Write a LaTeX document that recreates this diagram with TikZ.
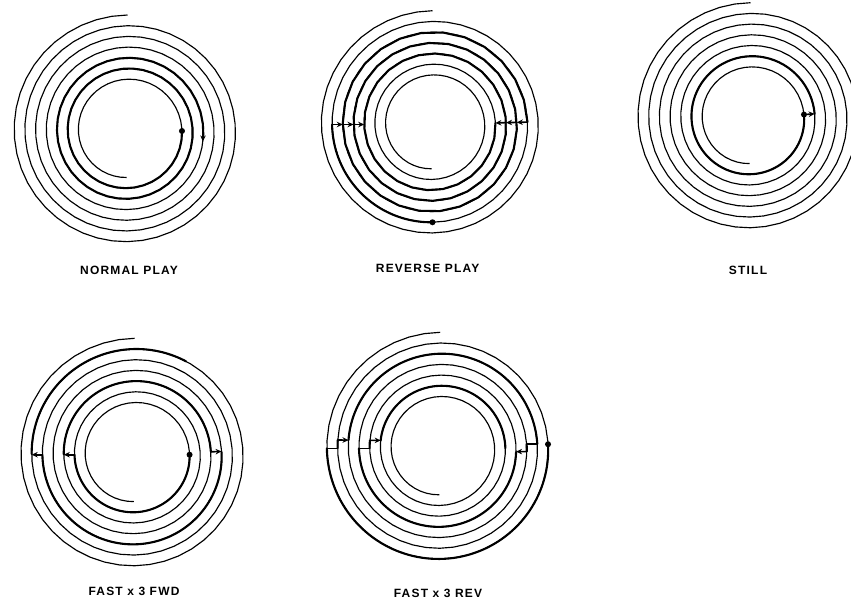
\documentclass[tikz,border=0pt]{standalone}
\usepackage{fontspec}
\setmainfont{Liberation Sans}
\newfontfamily\modefont[LetterSpace=10]{Liberation Sans}
\usetikzlibrary{arrows.meta}
\newcommand{\discP}{10.7}
\newcommand{\discR}{116}
\newcommand{\wholedisc}{\draw[thintrack] plot[variable=\t,domain=0:6.5,samples=300] ({ptx(\t)},{pty(\t)});}
\newcommand{\track}[2]{\draw[thicktrack] plot[variable=\t,domain=#1:#2,samples=80] ({ptx(\t)},{pty(\t)});}
\newcommand{\jump}[3]{
	\coordinate (jumpfrom) at ({ptx(#2)},{pty(#2)});
	\coordinate (jumpto) at ({ptx(#3)},{pty(#3)});
	\draw[#1] (jumpfrom) -- (jumpto);
}
\newcommand{\spot}[2]{\node[readspot] (#1) at ({ptx(#2)},{pty(#2)}) {};}
\begin{document}
\begin{tikzpicture}[x=1pt,y=-1pt,
		declare function={
			ptx(\t)=(\discR-\discP*\t)*cos(90+360*\t);
			pty(\t)=-(\discR-\discP*\t)*sin(90+360*\t);
		},
		thintrack/.style={line width=1.15pt,line join=round},
		thicktrack/.style={line width=2.1pt,line cap=round,line join=round},
		readspot/.style={circle,fill=black,inner sep=0pt,minimum size=6pt},
		hop/.style={line width=1.6pt,-{Stealth[length=6pt,width=5.5pt]}},
		flat/.style={line width=1.6pt},
		modename/.style={font=\fontsize{12}{14}\selectfont\modefont\bfseries,inner sep=0pt}]
	\clip (0,0) rectangle (851,603);
	% normal play
	\begin{scope}[shift={(127.5,131)}]
		\wholedisc
		\track{3.74}{5.75}
		\spot{normalspot}{5.75}
		\jump{hop}{3.757}{3.728}
	\end{scope}
	\node[modename] (normallabel) at (129,270) {NORMAL PLAY};
	% reverse play
	\begin{scope}[shift={(432.5,124.5)}]
		\renewcommand{\discR}{113.8}
		\wholedisc
		\track{1.25}{1.5}
		\track{1.754}{4.754}
		\spot{reversespot}{1.5}
		\jump{hop}{1.25}{2.25}
		\jump{hop}{2.25}{3.25}
		\jump{hop}{3.25}{4.25}
		\jump{hop}{1.754}{2.754}
		\jump{hop}{2.754}{3.754}
		\jump{hop}{3.754}{4.754}
	\end{scope}
	\node[modename] (reverselabel) at (427.7,268) {REVERSE PLAY};
	% still
	\begin{scope}[shift={(750.5,117.9)}]
		\renewcommand{\discR}{115.2}
		\wholedisc
		\track{4.76}{5.76}
		\spot{stillspot}{5.76}
		\jump{hop}{5.76}{4.76}
	\end{scope}
	\node[modename] (stilllabel) at (748,270) {STILL};
	% fast forward
	\begin{scope}[shift={(134.7,454.7)}]
		\renewcommand{\discR}{116.4}
		\wholedisc
		\track{0.92}{1.25}
		\track{2.25}{2.756}
		\track{3.756}{4.25}
		\track{5.25}{5.75}
		\spot{fwdspot}{5.75}
		\jump{hop}{5.25}{4.25}
		\jump{hop}{3.756}{2.756}
		\jump{hop}{2.25}{1.25}
	\end{scope}
	\node[modename] (fwdlabel) at (134,591.7) {FAST x 3 FWD};
	% fast reverse
	\begin{scope}[shift={(440.2,448.3)}]
		\wholedisc
		\track{0.25}{0.756}
		\track{1.237}{1.25}
		\track{1.757}{2.236}
		\track{2.744}{2.758}
		\track{3.25}{3.743}
		\track{4.232}{4.25}
		\track{4.75}{5.229}
		\spot{revspot}{0.756}
		\jump{flat}{0.25}{1.25}
		\jump{hop}{1.237}{2.236}
		\jump{flat}{1.757}{2.758}
		\jump{hop}{2.744}{3.743}
		\jump{flat}{3.25}{4.25}
		\jump{hop}{4.232}{5.229}
	\end{scope}
	\node[modename] (revlabel) at (438,593) {FAST x 3 REV};
\end{tikzpicture}
\end{document}
